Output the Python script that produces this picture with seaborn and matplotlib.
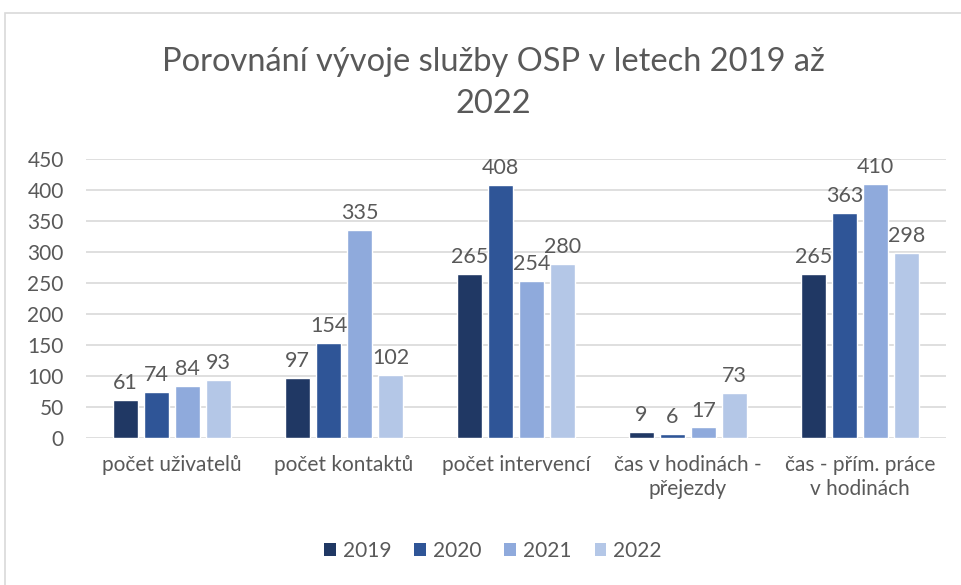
import matplotlib
matplotlib.use("Agg")
import matplotlib.pyplot as plt
import seaborn as sns
import pandas as pd
from matplotlib.patches import Rectangle, Patch

categories = ["počet uživatelů", "počet kontaktů", "počet intervencí",
              "čas v hodinách -\npřejezdy", "čas - přím. práce\nv hodinách"]
years = ["2019", "2020", "2021", "2022"]
v2019 = [61, 97, 265, 9, 265]
v2020 = [74, 154, 408, 6, 363]
v2021 = [84, 335, 254, 17, 410]
v2022 = [93, 102, 280, 73, 298]
colors = ["#203864", "#2F5597", "#8FAADC", "#B4C7E7"]
yticks = [0, 50, 100, 150, 200, 250, 300, 350, 400, 450]

rows = []
for yr, vals in zip(years, [v2019, v2020, v2021, v2022]):
    for c, v in zip(categories, vals):
        rows.append({"kategorie": c, "rok": yr, "hodnota": v})
df = pd.DataFrame(rows)

sns.set_style("white")
plt.rcParams["font.family"] = ["Lato", "DejaVu Sans"]
txt = "#595959"

fig = plt.figure(figsize=(9.61, 5.85), dpi=100)
ax = fig.add_axes([86/961, 1-438/585, (946-86)/961, (438-159)/585])

sns.barplot(data=df, x="kategorie", y="hodnota", hue="rok", order=categories,
            hue_order=years, palette=colors, width=0.72, gap=0.22,
            saturation=1, ax=ax, legend=False)

for cont in ax.containers:
    ax.bar_label(cont, padding=5, fontsize=15.5, color=txt)

ax.set_ylim(0, 450)
ax.set_xlim(-0.5, 4.5)
ax.set_yticks(yticks)
ax.set_axisbelow(True)
ax.yaxis.grid(True, color="#d9d9d9", linewidth=1.2)
for s in ax.spines.values():
    s.set_visible(False)
ax.tick_params(axis="both", length=0, labelsize=15, labelcolor=txt)
ax.tick_params(axis="x", pad=12)
ax.tick_params(axis="y", pad=16)
ax.set_xlabel("")
ax.set_ylabel("")
for lbl in ax.get_xticklabels():
    lbl.set_horizontalalignment("center")
    lbl.set_multialignment("center")
    lbl.set_linespacing(1.3)

fig.text(0.513, 1-83/585, "Porovnání vývoje služby OSP v letech 2019 až\n2022",
         ha="center", va="center", fontsize=23.5, color=txt, linespacing=1.5)

handles = [Patch(facecolor=c, edgecolor="none") for c in colors]
fig.legend(handles, years, loc="center", bbox_to_anchor=(0.513, 1-551/585),
           ncol=4, frameon=False, fontsize=15, labelcolor=txt,
           handlelength=0.55, handleheight=0.55, handletextpad=0.35, columnspacing=1.1)

fig.patches.append(Rectangle((5/961, -0.05), 1.0, 1-13/585+0.05, transform=fig.transFigure,
                             fill=False, edgecolor="#d9d9d9", linewidth=1.2))

fig.savefig("out.png", dpi=100)
